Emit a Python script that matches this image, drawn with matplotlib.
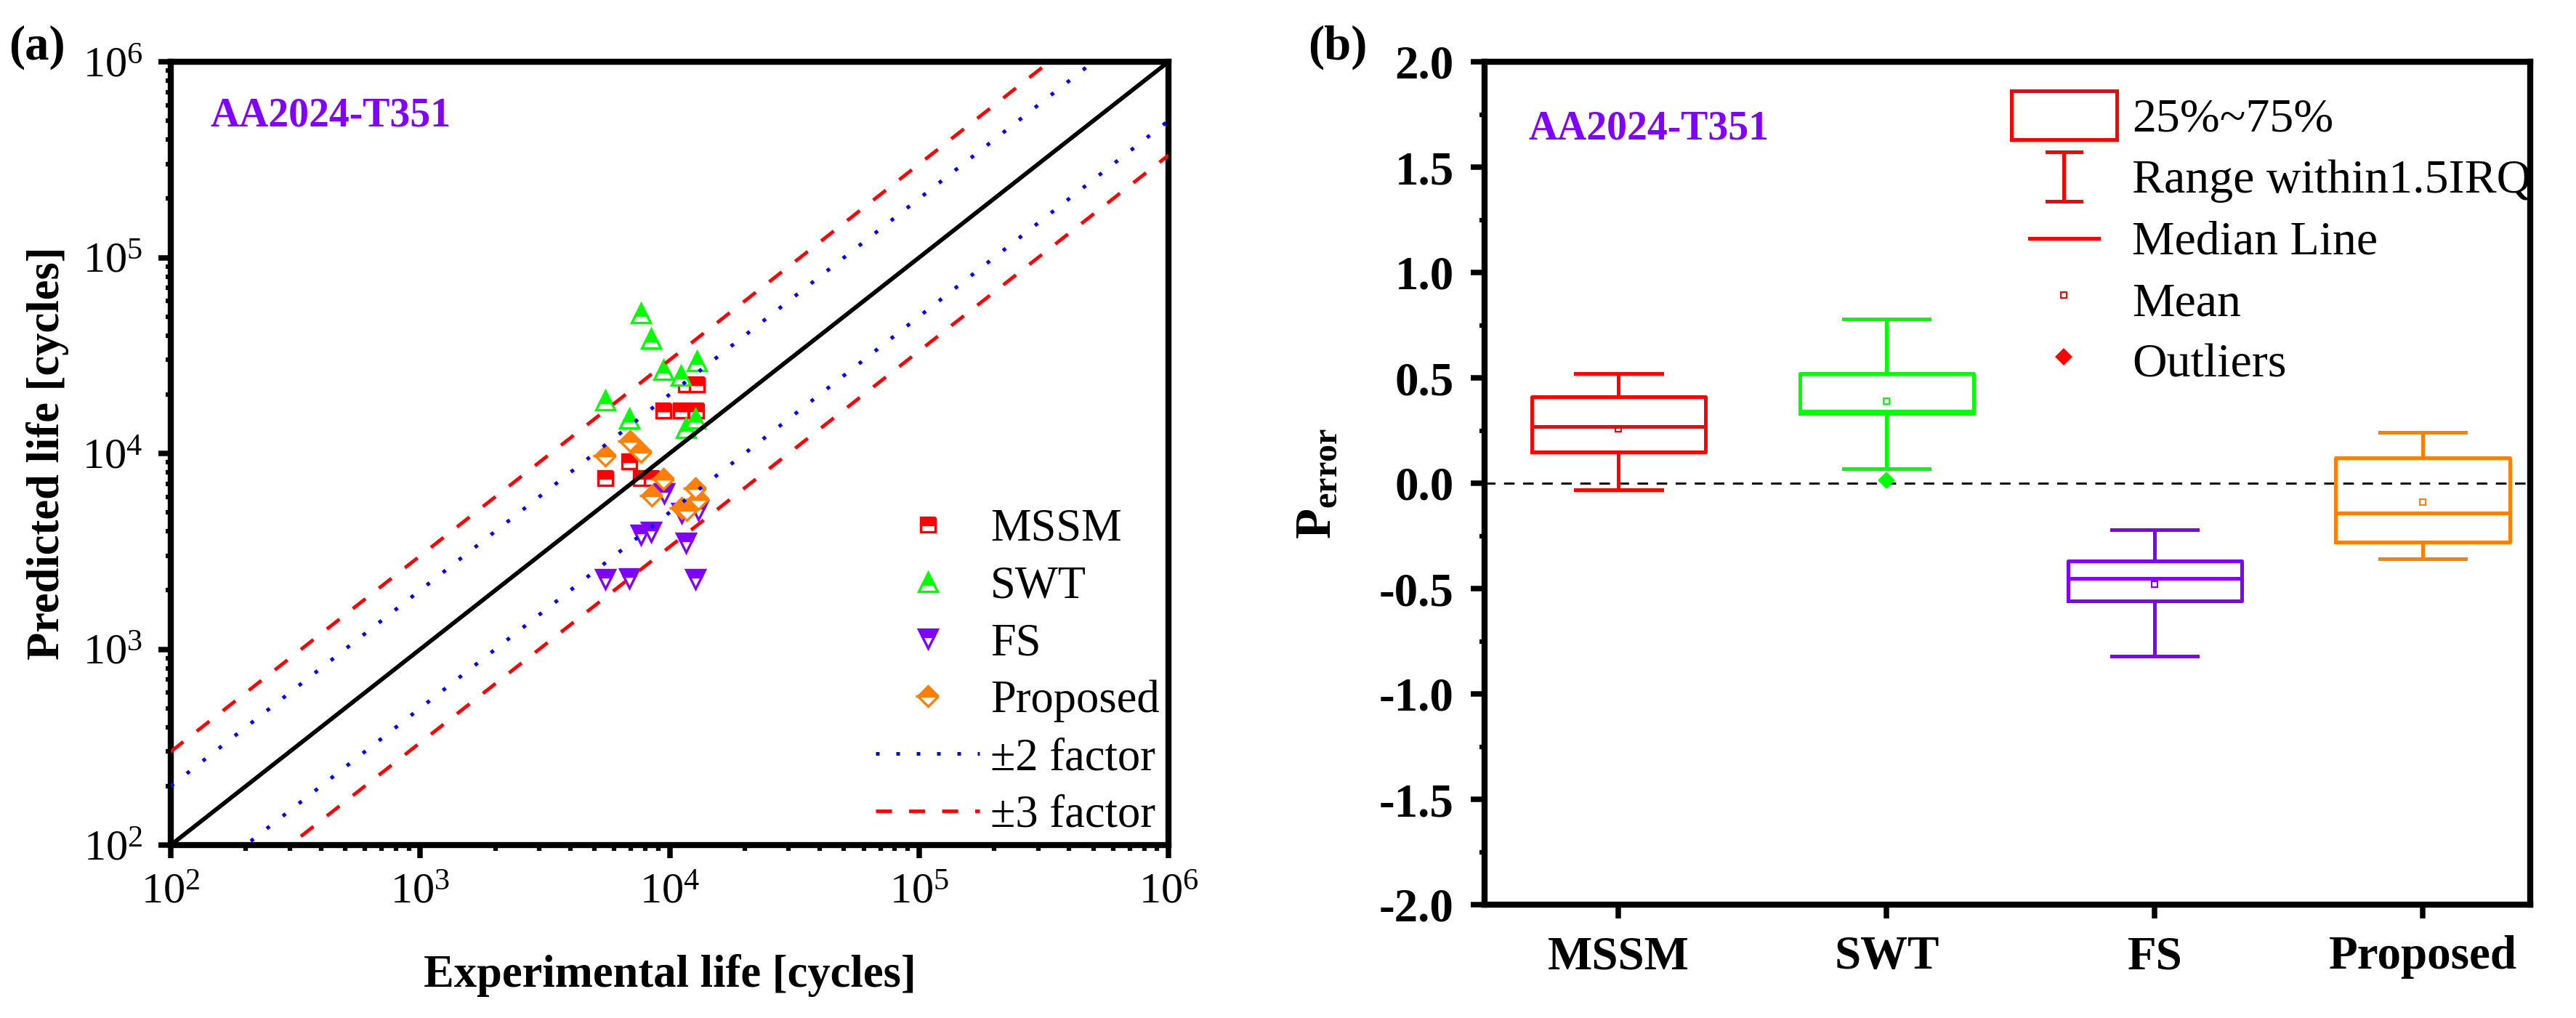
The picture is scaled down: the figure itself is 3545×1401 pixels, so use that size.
import matplotlib
matplotlib.use('Agg')
import matplotlib.pyplot as plt
import numpy as np
from matplotlib.legend_handler import HandlerBase
from matplotlib.patches import Rectangle
from matplotlib.lines import Line2D
from matplotlib.ticker import MultipleLocator, LogLocator, NullFormatter

plt.rcParams['font.family'] = ['Liberation Serif', 'DejaVu Serif']
plt.rcParams['mathtext.fontset'] = 'custom'
plt.rcParams['mathtext.rm'] = 'Liberation Serif'
plt.rcParams['mathtext.bf'] = 'Liberation Serif:bold'
plt.rcParams['mathtext.it'] = 'Liberation Serif:italic'
plt.rcParams['axes.unicode_minus'] = False

# ---------------- data: panel (a) ----------------
mssm_exp = [5530, 6900, 7690, 8500, 9420, 11100, 11600, 12800, 12900]
mssm_pred = [7480, 9100, 7480, 7480, 16600, 16600, 22500, 16600, 22500]

swt_exp = [5530, 6900, 7690, 8450, 9420, 11070, 11600, 12700, 12900]
swt_pred = [18700, 15100, 52000, 38500, 26700, 24900, 13500, 15100, 29600]

fs_exp = [5530, 6900, 7690, 8450, 9480, 11150, 11600, 12730, 13000]
fs_pred = [2280, 2300, 3840, 3970, 6250, 4970, 3500, 2280, 5140]

prop_exp = [5530, 6950, 7690, 8500, 9420, 11140, 11740, 12730, 13000]
prop_pred = [9750, 11560, 10160, 6090, 7420, 5270, 5140, 6640, 5840]

life_range = [1e2, 1e6]
factor2 = 2
factor3 = 3

# ---------------- data: panel (b) ----------------
methods = ['MSSM', 'SWT', 'FS', 'Proposed']
q1 = [0.15, 0.33, -0.56, -0.28]
med = [0.27, 0.34, -0.45, -0.14]
q3 = [0.41, 0.52, -0.37, 0.12]
whislo = [-0.03, 0.07, -0.82, -0.36]
whishi = [0.52, 0.78, -0.22, 0.24]
means = [0.26, 0.39, -0.48, -0.09]
fliers = [[], [0.015], [], []]
ytick_vals = [-2.0, -1.5, -1.0, -0.5, 0.0, 0.5, 1.0, 1.5, 2.0]
ytick_labels = ['-2.0', '-1.5', '-1.0', '-0.5', '0.0', '0.5', '1.0', '1.5', '2.0']

RED = '#FF0000'
GREEN = '#00FF00'
PURPLE = '#8000FF'
ORANGE = '#FF8000'
BLUE = '#0000FF'
box_colors = [RED, GREEN, PURPLE, ORANGE]

W, H = 3545, 1401
DPI = 300
fig = plt.figure(figsize=(W / DPI, H / DPI), dpi=DPI)


def ax_rect(x0, y0, x1, y1):
    return [x0 / W, 1 - y1 / H, (x1 - x0) / W, (y1 - y0) / H]


ax1 = fig.add_axes(ax_rect(235, 85, 1608, 1163))
ax2 = fig.add_axes(ax_rect(2043, 85, 3482, 1245))

SPINE_LW = 2.0

# ---------------- panel (a) ----------------
mk = dict(linestyle='none', fillstyle='top', markerfacecoloralt='white', mew=0.8)
ax1.plot(mssm_exp, mssm_pred, marker='s', ms=4.8, color=RED, mfc=RED, mec=RED, label='MSSM', **mk)
ax1.plot(swt_exp, swt_pred, marker='^', ms=6.4, color=GREEN, mfc=GREEN, mec=GREEN, label='SWT', **mk)
ax1.plot(fs_exp, fs_pred, marker='v', ms=6.4, color=PURPLE, mfc=PURPLE, mec=PURPLE, label='FS', **mk)
ax1.plot(prop_exp, prop_pred, marker='D', ms=4.9, color=ORANGE, mfc=ORANGE, mec=ORANGE, label='Proposed', **mk)

xl = np.array(life_range)
ax1.plot(xl, xl, color='black', lw=1.4, zorder=5)
dot = (0, (1, 4.6))
dash = (0, (4.6, 4.9))
ax1.plot(xl, xl * factor2, color=BLUE, lw=1.2, ls=dot, zorder=5, label='\u00b12 factor')
ax1.plot(xl, xl / factor2, color=BLUE, lw=1.2, ls=dot, zorder=5)
ax1.plot(xl, xl * factor3, color=RED, lw=1.15, ls=dash, zorder=5, label='\u00b13 factor')
ax1.plot(xl, xl / factor3, color=RED, lw=1.15, ls=dash, zorder=5)

ax1.set_xscale('log')
ax1.set_yscale('log')
ax1.set_xlim(life_range)
ax1.set_ylim(life_range)
for a in (ax1.xaxis, ax1.yaxis):
    a.set_major_locator(LogLocator(base=10, numticks=10))
    a.set_minor_locator(LogLocator(base=10, subs=np.arange(2, 10), numticks=20))
    a.set_minor_formatter(NullFormatter())
ax1.tick_params(which='major', direction='out', length=4.2, width=1.8, labelsize=14.5, pad=5)
ax1.tick_params(which='minor', direction='out', length=1.8, width=1.5)
for s in ax1.spines.values():
    s.set_linewidth(SPINE_LW)

ax1.set_xlabel('Experimental life [cycles]', fontsize=15, fontweight='bold')
ax1.set_ylabel('Predicted life [cycles]', fontsize=15, fontweight='bold')
ax1.xaxis.set_label_coords(0.5, -0.139)
ax1.yaxis.set_label_coords(-0.102, 0.5)

ax1.text((290 - 235) / 1373, 1 - (160 - 85) / 1078, 'AA2024-T351', transform=ax1.transAxes,
         color=PURPLE, fontsize=13.4, fontweight='bold', va='center', ha='left')

h, l = ax1.get_legend_handles_labels()
ax1.legend(h, l, loc='upper left', bbox_to_anchor=(1205 / W, 1 - 700 / H),
           bbox_transform=fig.transFigure, frameon=False, fontsize=15, numpoints=1,
           handlelength=2.29, handletextpad=0.24, labelspacing=0.33, borderpad=0,
           borderaxespad=0)

fig.text(12 / W, 1 - 65 / H, '(a)', fontsize=16, fontweight='bold', va='center', ha='left')
fig.text(1800 / W, 1 - 65 / H, '(b)', fontsize=16, fontweight='bold', va='center', ha='left')

# ---------------- panel (b) ----------------
BOX_LW = 1.2
for i, c in enumerate(box_colors):
    st = dict(label=methods[i], q1=q1[i], med=med[i], q3=q3[i], whislo=whislo[i],
              whishi=whishi[i], mean=means[i], fliers=fliers[i])
    ax2.bxp([st], positions=[i + 1], widths=0.65, capwidths=0.32, showmeans=True,
            manage_ticks=False,
            boxprops=dict(color=c, lw=BOX_LW),
            whiskerprops=dict(color=c, lw=BOX_LW),
            capprops=dict(color=c, lw=BOX_LW),
            medianprops=dict(color=c, lw=BOX_LW),
            meanprops=dict(marker='s', mfc='none', mec=c, ms=2.0, mew=0.5),
            flierprops=dict(marker='D', mfc=c, mec=c, ms=3.0))

ax2.axhline(0, color='black', lw=0.7, ls=(0, (5, 4)), zorder=0)
ax2.set_xlim(0.5, 4.4)
ax2.set_ylim(-2.0, 2.0)
ax2.set_xticks([1, 2, 3, 4], labels=methods, fontweight='bold', fontsize=15.6)
ax2.set_yticks(ytick_vals, labels=ytick_labels, fontweight='bold', fontsize=15.6)
ax2.yaxis.set_minor_locator(MultipleLocator(0.25))
ax2.tick_params(which='major', direction='out', length=4.6, width=1.8, pad=5.5)
ax2.tick_params(which='minor', direction='out', length=1.8, width=1.5)
for s in ax2.spines.values():
    s.set_linewidth(SPINE_LW)
ax2.set_ylabel(r'$\mathbf{P}_{\mathbf{error}}$', fontsize=16.5)
ax2.yaxis.set_label_coords(-0.134 * 1476 / 1439, 0.5)

ax2.text((2103 - 2043) / 1439, 1 - (178 - 85) / 1160, 'AA2024-T351', transform=ax2.transAxes,
         color=PURPLE, fontsize=13.4, fontweight='bold', va='center', ha='left')


class WhiskerProxy:
    pass


class MedianProxy:
    pass


class WhiskerHandler(HandlerBase):
    def create_artists(self, legend, orig, xd, yd, w, h, fs, trans):
        x0, y0 = -xd, -yd
        cx = x0 + w / 2
        cw = 0.33 * w / 2
        arts = [Line2D([cx, cx], [y0, y0 + h], color=RED, lw=BOX_LW),
                Line2D([cx - cw, cx + cw], [y0, y0], color=RED, lw=BOX_LW),
                Line2D([cx - cw, cx + cw], [y0 + h, y0 + h], color=RED, lw=BOX_LW)]
        for a in arts:
            a.set_transform(trans)
        return arts


class MedianHandler(HandlerBase):
    def create_artists(self, legend, orig, xd, yd, w, h, fs, trans):
        x0, y0 = -xd, -yd
        cx = x0 + w / 2
        hw = 0.66 * w / 2
        a = Line2D([cx - hw, cx + hw], [y0 + h / 2, y0 + h / 2], color=RED, lw=BOX_LW)
        a.set_transform(trans)
        return [a]


leg_handles = [Rectangle((0, 0), 1, 1, fc='none', ec=RED, lw=BOX_LW),
               WhiskerProxy(), MedianProxy(),
               Line2D([], [], ls='none', marker='s', ms=2.0, mfc='none', mec=RED, mew=0.5),
               Line2D([], [], ls='none', marker='D', ms=3.0, mfc=RED, mec=RED)]
leg_labels = ['25%~75%', 'Range within1.5IRQ', 'Median Line', 'Mean', 'Outliers']
ax2.legend(leg_handles, leg_labels, handler_map={WhiskerProxy: WhiskerHandler(),
                                                 MedianProxy: MedianHandler()},
           loc='upper left', bbox_to_anchor=(2768 / W, 1 - 125 / H),
           bbox_transform=fig.transFigure, frameon=False, fontsize=15.8, numpoints=1,
           handlelength=2.2, handleheight=1.2, handletextpad=0.32, labelspacing=0.22,
           borderpad=0, borderaxespad=0)

fig.savefig('out.png', dpi=DPI)
